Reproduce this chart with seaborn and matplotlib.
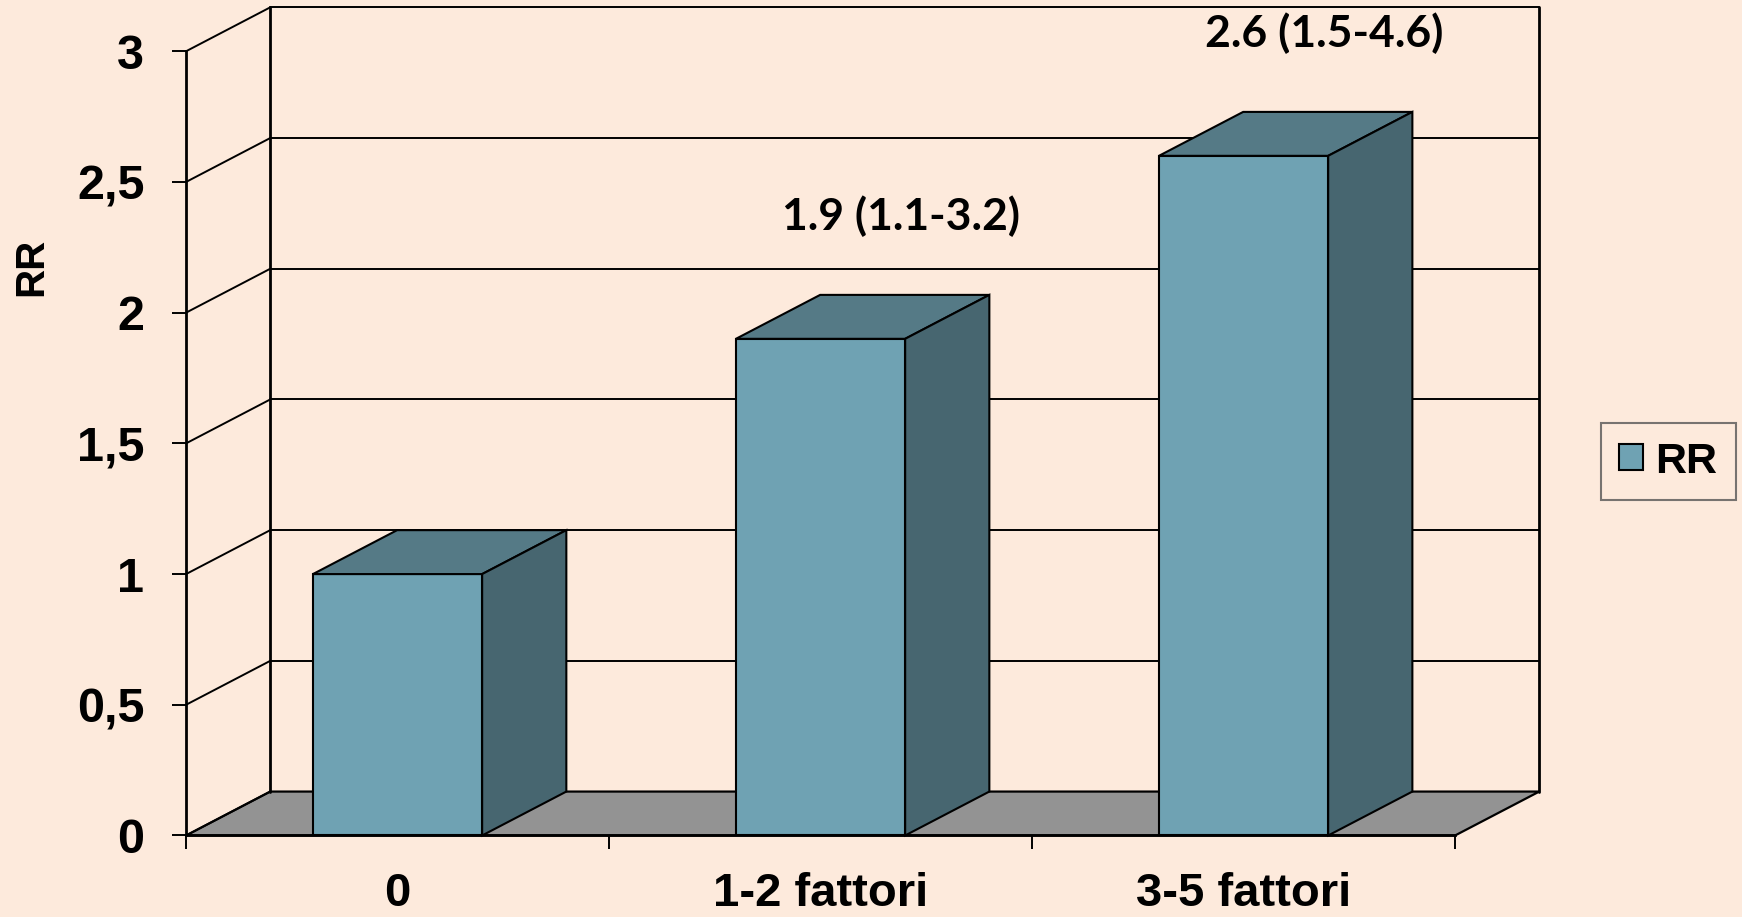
import matplotlib
matplotlib.use("Agg")
import matplotlib.pyplot as plt
from matplotlib.patches import Polygon
import seaborn as sns
import pandas as pd

# data
categories = ["0", "1-2 fattori", "3-5 fattori"]
rr_values = [1.0, 1.9, 2.6]
value_labels = ["", "1.9 (1.1-3.2)", "2.6 (1.5-4.6)"]
y_ticks = [0, 0.5, 1, 1.5, 2, 2.5, 3]
y_tick_labels = ["0", "0,5", "1", "1,5", "2", "2,5", "3"]
series_name = "RR"

# styling
BG = "#FDEADC"
FRONT = "#6FA2B3"
TOP = "#557A86"
SIDE = "#476670"
FLOOR = "#939393"
DEPTH_X = 0.199   # depth offset in category units
DEPTH_Y = 0.168   # depth offset in value units

sns.set_theme(style="white")
plt.rcParams["font.family"] = ["Liberation Sans", "DejaVu Sans"]
plt.rcParams["text.color"] = "black"
plt.rcParams["axes.labelcolor"] = "black"
plt.rcParams["xtick.color"] = "black"
plt.rcParams["ytick.color"] = "black"

fig = plt.figure(figsize=(17.42, 9.17), dpi=100, facecolor=BG)
ax = fig.add_axes([0.1068, 0.0889, 0.7285, 0.8552])
ax.set_facecolor("none")

df = pd.DataFrame({"cat": categories, "rr": rr_values})
sns.barplot(data=df, x="cat", y="rr", color=FRONT, width=0.4, saturation=1,
            edgecolor="black", linewidth=1.5, label=series_name, ax=ax, zorder=5)

ax.set_xlim(-0.5, 2.5)
ax.set_ylim(0, 3)

x0, x1 = -0.5, 2.5
dx, dy = DEPTH_X, DEPTH_Y
line_kw = dict(color="black", lw=1.4, clip_on=False, zorder=2)

# floor
floor = Polygon([(x0, 0), (x1, 0), (x1 + dx, dy), (x0 + dx, dy)], closed=True,
                facecolor=FLOOR, edgecolor="black", lw=1.6, clip_on=False, zorder=1)
ax.add_patch(floor)

# walls and gridlines
for v in y_ticks:
    ax.plot([x0, x0 + dx], [v, v + dy], **line_kw)
    if v > 0:
        ax.plot([x0 + dx, x1 + dx], [v + dy, v + dy], **line_kw)
ax.plot([x0 + dx, x0 + dx], [dy, y_ticks[-1] + dy], color="black", lw=2.0,
        clip_on=False, zorder=2)
ax.plot([x1 + dx, x1 + dx], [dy, y_ticks[-1] + dy], color="black", lw=2.0,
        clip_on=False, zorder=2)

# 3D top and side faces of each bar
for patch, val in zip(ax.patches[:len(rr_values)], rr_values):
    bx0 = patch.get_x()
    bx1 = bx0 + patch.get_width()
    top = Polygon([(bx0, val), (bx1, val), (bx1 + dx, val + dy), (bx0 + dx, val + dy)],
                  closed=True, facecolor=TOP, edgecolor="black", lw=1.5,
                  clip_on=False, zorder=6)
    side = Polygon([(bx1, 0), (bx1 + dx, dy), (bx1 + dx, val + dy), (bx1, val)],
                   closed=True, facecolor=SIDE, edgecolor="black", lw=1.5,
                   clip_on=False, zorder=6)
    ax.add_patch(top)
    ax.add_patch(side)
    patch.set_clip_on(False)

# value annotations
for i, (val, txt) in enumerate(zip(rr_values, value_labels)):
    if txt:
        ax.text(i + 0.19, val + 0.47, txt, ha="center", va="center",
                fontsize=32, fontweight="bold", family=["Lato", "DejaVu Sans"],
                color="black", zorder=7, clip_on=False)

# axes
for s in ["top", "right"]:
    ax.spines[s].set_visible(False)
for s in ["left", "bottom"]:
    ax.spines[s].set_color("black")
    ax.spines[s].set_linewidth(2.0)
    ax.spines[s].set_zorder(3)

ax.set_yticks(y_ticks)
ax.set_yticklabels(y_tick_labels, fontsize=35, fontweight="bold")
ax.tick_params(axis="y", length=10, width=1.4, color="black", pad=20, left=True)

ax.set_xticks(range(len(categories)))
ax.set_xticklabels(categories, fontsize=34, fontweight="bold")
ax.tick_params(axis="x", which="major", length=0, pad=26)
ax.set_xticks([-0.5, 0.5, 1.5, 2.5], minor=True)
ax.tick_params(axis="x", which="minor", length=10, width=1.4, color="black",
               bottom=True, direction="out")

ax.set_xlabel("")
ax.set_ylabel("RR", fontsize=29, fontweight="bold")
ax.yaxis.set_label_coords(-0.107, 0.725)

leg = ax.legend(loc="center left", bbox_to_anchor=(0.919, 0.4967),
                bbox_transform=fig.transFigure, frameon=True, fancybox=False,
                prop={"size": 31, "weight": "bold"}, handlelength=0.55,
                handleheight=0.55, handletextpad=0.3, borderpad=0.42,
                borderaxespad=0)
leg.get_frame().set_facecolor(BG)
leg.get_frame().set_edgecolor("#555555")
leg.get_frame().set_linewidth(1.5)

fig.savefig("out.png", dpi=100, facecolor=BG)
